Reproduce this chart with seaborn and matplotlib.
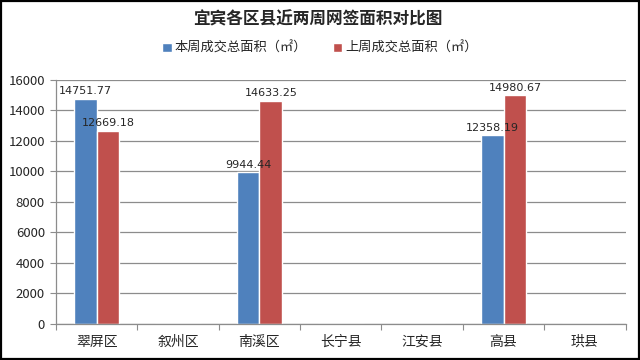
import matplotlib
matplotlib.use("Agg")
import matplotlib.pyplot as plt
import seaborn as sns
import pandas as pd
import numpy as np
from matplotlib.patches import Patch

categories = ["翠屏区", "叙州区", "南溪区", "长宁县", "江安县", "高县", "珙县"]
this_week = [14751.77, 0, 9944.44, 0, 0, 12358.19, 0]
last_week = [12669.18, 0, 14633.25, 0, 0, 14980.67, 0]
series_names = ["本周成交总面积（㎡）", "上周成交总面积（㎡）"]
colors = ["#4F81BD", "#C0504D"]

sns.set_theme(style="white")
plt.rcParams['font.family'] = ['Noto Sans CJK SC', 'DejaVu Sans']

df = pd.DataFrame({
    "区县": categories * 2,
    "面积": this_week + last_week,
    "系列": [series_names[0]] * len(categories) + [series_names[1]] * len(categories),
})

fig = plt.figure(figsize=(6.4, 3.6), dpi=100)
fig.patch.set_facecolor("white")
ax = fig.add_axes([0.0875, 0.1, 0.89, 0.678])

sns.barplot(data=df, x="区县", y="面积", hue="系列",
            palette=colors, width=0.56, ax=ax, saturation=1, legend=False)

ax.set_ylim(0, 16000)
ax.set_yticks(np.arange(0, 16001, 2000))
ax.set_yticklabels([str(v) for v in range(0, 16001, 2000)], fontsize=9.5)
ax.yaxis.grid(True, color="#8c8c8c", linewidth=0.9)
ax.set_axisbelow(True)
ax.set_xlabel("")
ax.set_ylabel("")
ax.set_xlim(-0.5, len(categories) - 0.5)
ax.tick_params(axis="x", labelsize=10, length=0, pad=8)
ax.tick_params(axis="y", length=4, width=0.8, color="#8c8c8c", left=True, pad=4)
ax.set_xticks(range(len(categories)))
ax.set_xticklabels(categories)
ax.set_xticks(np.arange(-0.5, len(categories), 1), minor=True)
ax.tick_params(axis="x", which="minor", length=4, width=0.8, color="#8c8c8c", bottom=True)
for s in ["top", "right"]:
    ax.spines[s].set_visible(False)
for s in ["left", "bottom"]:
    ax.spines[s].set_color("#8c8c8c")
    ax.spines[s].set_linewidth(0.9)

for cont in ax.containers:
    labels = [f"{v:.2f}" if v > 0 else "" for v in cont.datavalues]
    ax.bar_label(cont, labels=labels, fontsize=8, padding=2, family="DejaVu Sans")

fig.text(0.497, 0.945, "宜宾各区县近两周网签面积对比图", ha="center", va="center",
         fontsize=12, fontweight="bold")
handles = [Patch(facecolor=c) for c in colors]
fig.legend(handles, series_names, loc="center", bbox_to_anchor=(0.5, 0.865), ncol=2,
           frameon=False, fontsize=9.5, handlelength=0.7, handleheight=0.7,
           columnspacing=2.0, handletextpad=0.2)

fig.patches.append(plt.Rectangle((0.002, 0.003), 0.996, 0.994, transform=fig.transFigure,
                                 fill=False, edgecolor="black", linewidth=1.6))

fig.savefig("out.png", dpi=100)
